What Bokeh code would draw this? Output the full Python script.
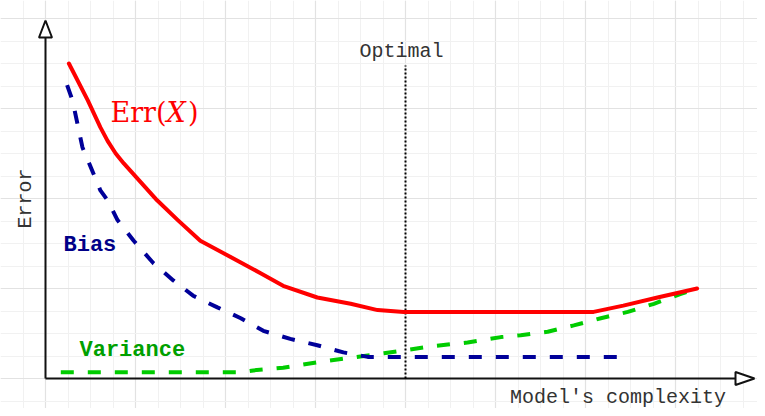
import math
from bokeh.plotting import figure
from bokeh.models import Range1d, Grid, SingleIntervalTicker, Label
from bokeh.embed import file_html
from bokeh.resources import INLINE

# ---- data (model complexity vs error, arbitrary units) ----
err_x = [0.26, 0.47, 0.61, 0.69, 0.78, 0.87, 1.06, 1.24, 1.47, 1.72, 2.02, 2.39,
         2.64, 3.02, 3.39, 3.69, 3.98, 6.09, 6.42, 6.80, 7.24]
err_y = [3.50, 3.09, 2.79, 2.64, 2.50, 2.39, 2.18, 1.98, 1.76, 1.53, 1.37, 1.17,
         1.03, 0.90, 0.83, 0.76, 0.74, 0.74, 0.81, 0.90, 1.00]

bias_x = [0.24, 0.30, 0.41, 0.61, 0.69, 0.80, 0.98, 1.20, 1.42, 1.64, 1.91, 2.17,
          2.42, 2.72, 3.02, 3.31, 3.58, 6.36]
bias_y = [3.26, 3.09, 2.57, 2.09, 1.98, 1.76, 1.53, 1.28, 1.09, 0.92, 0.79, 0.67,
          0.53, 0.44, 0.37, 0.29, 0.24, 0.24]

var_x = [0.17, 2.17, 2.31, 2.64, 3.02, 3.39, 3.76, 4.31, 4.69, 5.06, 5.28, 5.58,
         5.87, 6.17, 6.47, 6.76, 7.06, 7.24]
var_y = [0.07, 0.07, 0.09, 0.12, 0.18, 0.23, 0.28, 0.36, 0.40, 0.46, 0.48, 0.52,
         0.59, 0.67, 0.74, 0.83, 0.94, 1.00]

optimal_x = 4.0

W, H = 757, 408
PX = 90.0  # pixels per unit
OX, OY = 45, 378  # origin position in pixels
p = figure(width=W, height=H, output_backend="svg", toolbar_location=None,
           x_range=Range1d(-OX / PX, (W - OX) / PX),
           y_range=Range1d(-(H - OY) / PX, OY / PX),
           x_axis_type=None, y_axis_type=None, min_border=0)
p.outline_line_color = None
p.background_fill_color = "white"

for dim in (0, 1):
    g = Grid(dimension=dim, ticker=SingleIntervalTicker(interval=1, num_minor_ticks=4),
             grid_line_color="#e2e2e2", grid_line_width=1.2,
             minor_grid_line_color="#f1f1f1", minor_grid_line_width=1)
    p.add_layout(g)

# axes with open arrow heads
ytip = 358 / PX
xtip = 709 / PX
hw = 6.5 / PX
p.line([0, 0], [0, ytip - 17 / PX], line_color="#111111", line_width=2)
p.line([0, xtip - 19 / PX], [0, 0], line_color="#111111", line_width=2)
p.patch([-hw, 0, hw], [ytip - 17 / PX, ytip, ytip - 17 / PX],
        fill_color="white", line_color="#111111", line_width=2)
p.patch([xtip - 19 / PX, xtip, xtip - 19 / PX], [-hw, 0, hw],
        fill_color="white", line_color="#111111", line_width=2)

# optimal line
p.line([optimal_x, optimal_x], [0, 313 / PX], line_color="#000000",
       line_width=2, line_dash="2 2")

# curves
p.line(var_x, var_y, line_color="#00cc00", line_width=4, line_dash="13 14")
p.line(bias_x, bias_y, line_color="#000099", line_width=4, line_dash="13 14")
p.line(err_x, err_y, line_color="#ff0000", line_width=4, line_join="round", line_cap="round")

mono = "Liberation Mono"
p.add_layout(Label(x=optimal_x - 4 / PX, y=327 / PX, text="Optimal", text_font=mono,
                   text_font_size="20px", text_color="#333333",
                   text_align="center", text_baseline="alphabetic"))
p.add_layout(Label(x=572.5 / PX, y=-19 / PX, text="Model's complexity", text_font=mono,
                   text_font_size="20px", text_color="#333333",
                   text_align="center", text_baseline="alphabetic"))
p.add_layout(Label(x=-20 / PX, y=180 / PX, text="Error", text_font=mono,
                   text_font_size="20px", text_color="#333333", angle=math.pi / 2,
                   text_align="center", text_baseline="middle"))
p.add_layout(Label(x=18 / PX, y=133 / PX, text="Bias", text_font=mono,
                   text_font_size="22px", text_font_style="bold", text_color="#000088",
                   text_align="left", text_baseline="alphabetic"))
p.add_layout(Label(x=34 / PX, y=28 / PX, text="Variance", text_font=mono,
                   text_font_size="22px", text_font_style="bold", text_color="#00a000",
                   text_align="left", text_baseline="alphabetic"))

serif = "DejaVu Serif"
ey = 266 / PX
p.add_layout(Label(x=65 / PX, y=ey, text="Err(", text_font=serif,
                   text_font_size="27px", text_color="#ff0000",
                   text_align="left", text_baseline="alphabetic"))
p.add_layout(Label(x=121 / PX, y=ey, text="X", text_font=serif,
                   text_font_size="27px", text_font_style="italic", text_color="#ff0000",
                   text_align="left", text_baseline="alphabetic"))
p.add_layout(Label(x=142.5 / PX, y=ey, text=")", text_font=serif,
                   text_font_size="27px", text_color="#ff0000",
                   text_align="left", text_baseline="alphabetic"))

open("out.html", "w").write(file_html(p, INLINE))
